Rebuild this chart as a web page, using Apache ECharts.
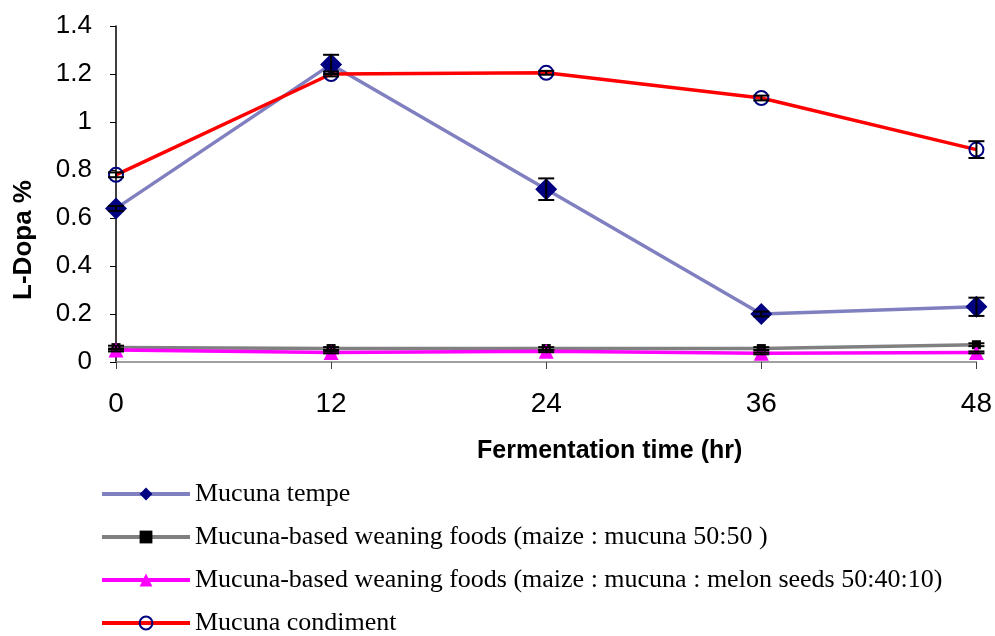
<!DOCTYPE html>
<html>
<head>
<meta charset="utf-8">
<script src="https://cdn.jsdelivr.net/npm/echarts@6/dist/echarts.min.js"></script>
<style>
  html, body { margin: 0; padding: 0; background: #fff; }
  #main { width: 995px; height: 636px; }
</style>
</head>
<body>
<div id="main"></div>
<script>
// fermentation time (hr)
var hours = [0, 12, 24, 36, 48];

var seriesNames = [
    'Mucuna tempe',
    'Mucuna-based weaning foods (maize : mucuna 50:50 )',
    'Mucuna-based weaning foods (maize : mucuna : melon seeds 50:40:10)',
    'Mucuna condiment'
];

// L-Dopa % values
var tempe = [0.64, 1.24, 0.72, 0.2, 0.23];
var weaning5050 = [0.06, 0.056, 0.056, 0.056, 0.072];
var weaning504010 = [0.05, 0.04, 0.045, 0.036, 0.04];
var condiment = [0.78, 1.2, 1.205, 1.1, 0.885];

// error bars (+/-)
var tempeErr = [0.01, 0.04, 0.045, 0.01, 0.038];
var weaning5050Err = [0.008, 0.006, 0.006, 0.006, 0.006];
var weaning504010Err = [0.006, 0.004, 0.004, 0.004, 0.004];
var condimentErr = [0.01, 0.01, 0.008, 0.01, 0.035];

function pairs(vals) {
    return hours.map(function (h, i) { return [h, vals[i]]; });
}
function errData(vals, errs) {
    return hours.map(function (h, i) { return [h, vals[i], errs[i]]; });
}

// vertical error bar with caps
function errSeries(vals, errs, z) {
    return {
        type: 'custom',
        z: z,
        silent: true,
        data: errData(vals, errs),
        renderItem: function (params, api) {
            var x = api.value(0), y = api.value(1), e = api.value(2);
            var hi = api.coord([x, y + e]);
            var lo = api.coord([x, y - e]);
            var w = 8;
            var st = { stroke: '#000', lineWidth: 2 };
            return {
                type: 'group',
                children: [
                    { type: 'line', shape: { x1: hi[0], y1: hi[1], x2: lo[0], y2: lo[1] }, style: st },
                    { type: 'line', shape: { x1: hi[0] - w, y1: hi[1], x2: hi[0] + w, y2: hi[1] }, style: st },
                    { type: 'line', shape: { x1: lo[0] - w, y1: lo[1], x2: lo[0] + w, y2: lo[1] }, style: st }
                ]
            };
        }
    };
}

var myChart = echarts.init(document.getElementById('main'));

myChart.setOption({
    animation: false,
    grid: { left: 116, right: 15, top: 26, bottom: 274 },
    legend: {
        orient: 'vertical',
        left: 100,
        top: 481,
        height: 200,
        padding: 0,
        itemWidth: 88,
        itemHeight: 16,
        itemGap: 17,
        data: seriesNames,
        lineStyle: { width: 4 },
        textStyle: { fontFamily: 'Liberation Serif', fontSize: 26, color: '#000' }
    },
    xAxis: {
        type: 'value',
        min: 0,
        max: 48,
        interval: 12,
        splitLine: { show: false },
        axisLine: { lineStyle: { color: '#808080', width: 1.5 } },
        axisTick: { length: 7, lineStyle: { color: '#404040' } },
        axisLabel: { margin: 28, fontFamily: 'Liberation Sans', fontSize: 28, color: '#000' }
    },
    yAxis: {
        type: 'value',
        min: 0,
        max: 1.4,
        interval: 0.2,
        splitLine: { show: false },
        axisLine: { show: true, lineStyle: { color: '#000', width: 1.5 } },
        axisTick: { show: true, length: 6, lineStyle: { color: '#000' } },
        axisLabel: { margin: 24, fontFamily: 'Liberation Sans', fontSize: 26, color: '#000',
            formatter: function (v) { return String(Math.round(v * 10) / 10); } }
    },
    graphic: [
        {
            type: 'text', left: 477, top: 439,
            style: { text: 'Fermentation time (hr)', font: 'bold 25px Liberation Sans', fill: '#000' }
        },
        {
            type: 'text', x: 24, y: 240, rotation: Math.PI / 2,
            style: { text: 'L-Dopa %', font: 'bold 26px Liberation Sans', fill: '#000',
                align: 'center', verticalAlign: 'middle' }
        }
    ],
    series: [
        {
            name: seriesNames[0], type: 'line', data: pairs(tempe), z: 3,
            symbol: 'diamond', symbolSize: 22,
            lineStyle: { color: '#8080C0', width: 3.5 },
            itemStyle: { color: '#000080', borderWidth: 0 }
        },
        {
            name: seriesNames[1], type: 'line', data: pairs(weaning5050), z: 2,
            symbol: 'rect', symbolSize: 9,
            lineStyle: { color: '#808080', width: 3.5 },
            itemStyle: { color: '#000', borderWidth: 0 }
        },
        {
            name: seriesNames[2], type: 'line', data: pairs(weaning504010), z: 3,
            symbol: 'triangle', symbolSize: 15,
            lineStyle: { color: '#FF00FF', width: 3.5 },
            itemStyle: { color: '#FF00FF', borderWidth: 0 }
        },
        {
            name: seriesNames[3], type: 'line', data: pairs(condiment), z: 3,
            symbol: 'circle', symbolSize: 14,
            lineStyle: { color: '#FF0000', width: 3.5 },
            itemStyle: { color: 'transparent', borderColor: '#000080', borderWidth: 2 }
        },
        errSeries(tempe, tempeErr, 5),
        errSeries(weaning5050, weaning5050Err, 5),
        errSeries(weaning504010, weaning504010Err, 5),
        errSeries(condiment, condimentErr, 5)
    ]
});
</script>
</body>
</html>
